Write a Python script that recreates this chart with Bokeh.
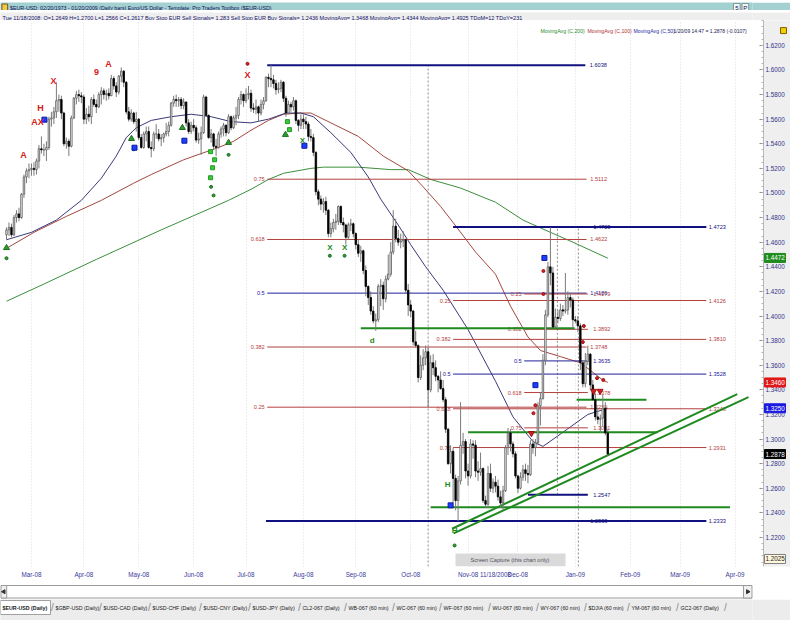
import numpy as np
import pandas as pd
from bokeh.plotting import figure
from bokeh.models import (Range1d, FixedTicker, Label, ColumnDataSource, BoxAnnotation)
from bokeh.layouts import column, row
from bokeh.embed import file_html
from bokeh.resources import INLINE
from bokeh.core.properties import value

FONT = "Liberation Sans"

# ---------------- data ----------------
start_date = "2008-02-18"
end_date = "2009-01-20"
axis_end_date = "2009-04-30"
cursor_bar = 196          # 11/18/2008, the bar shown in the header line

opens = [
 1.4660,1.4700,1.4720,1.4660,1.4800,1.4830,1.4800,1.4990,1.5130,1.5180,
 1.5190,1.5200,1.5190,1.5260,1.5360,1.5350,1.5350,1.5370,1.5600,1.5610,1.5660,1.5750,1.5760,1.5650,1.5400,1.5420,1.5380,1.5610,1.5770,1.5800,1.5790,
 1.5780,1.5600,1.5640,1.5620,1.5760,1.5720,1.5700,1.5800,1.5830,1.5800,1.5810,1.5790,1.5930,1.5870,1.5820,1.5950,1.5990,1.5900,1.5660,1.5600,1.5650,1.5580,
 1.5600,1.5450,1.5370,1.5480,1.5500,1.5370,1.5360,1.5480,1.5480,1.5440,1.5450,1.5480,1.5500,1.5550,1.5730,1.5760,1.5750,1.5760,1.5710,1.5740,1.5570,1.5500,
 1.5550,1.5530,1.5430,1.5440,1.5490,1.5780,1.5630,1.5450,1.5480,1.5380,1.5370,1.5480,1.5520,1.5550,1.5490,1.5620,1.5530,1.5610,1.5630,1.5760,1.5800,
 1.5750,1.5800,1.5810,1.5690,1.5680,1.5700,1.5650,1.5720,1.5750,1.5940,1.5930,1.5920,1.5890,1.5840,1.5850,1.5900,1.5770,1.5650,1.5720,1.5700,1.5750,1.5590,1.5550,
 1.5600,1.5580,1.5560,1.5460,1.5450,1.5330,1.5010,1.4950,1.4910,1.4930,1.4860,1.4670,1.4710,1.4760,1.4770,1.4890,1.4760,1.4740,1.4640,1.4740,1.4750,
 1.4670,1.4580,1.4510,1.4530,1.4370,1.4240,1.4150,1.4040,1.3960,1.3970,1.4240,1.4250,1.4140,1.4300,1.4340,1.4520,1.4730,1.4630,1.4600,1.4610,1.4620,1.4210,
 1.4090,1.4040,1.3790,1.3760,1.3500,1.3600,1.3660,1.3710,1.3400,1.3620,1.3580,1.3510,1.3480,1.3410,1.3320,1.3080,1.2800,1.2900,1.2680,1.2500,1.2660,1.2950,1.2980,
 1.2740,1.2700,1.2960,1.2950,1.2740,1.2730,1.2760,1.2500,1.2470,1.2720,1.2600,1.2649,1.2617,1.2530,1.2480,1.2580,1.2930,1.3050,1.2960,1.2880,
 1.2700,1.2600,1.2690,1.2750,1.2720,1.2710,1.2960,1.2930,1.2970,1.3270,1.3330,1.3640,1.4010,1.4400,1.4350,1.3910,1.3990,1.3980,1.4050,1.4040,1.4050,1.4150,1.4130,
 1.3970,1.3960,1.3920,1.3620,1.3450,1.3630,1.3690,1.3440,1.3320,1.3180,1.3160,1.3170,1.3250,1.3050]

highs = [
 1.4720,1.4760,1.4750,1.4820,1.4860,1.4880,1.5000,1.5150,1.5200,1.5240,
 1.5240,1.5250,1.5280,1.5390,1.5460,1.5400,1.5420,1.5620,1.5660,1.5700,1.5900,1.5800,1.5790,1.5660,1.5450,1.5440,1.5630,1.5780,1.5830,1.5840,1.5820,
 1.5800,1.5690,1.5710,1.5780,1.5800,1.5760,1.5820,1.5860,1.5850,1.5840,1.5850,1.5960,1.5950,1.5900,1.5960,1.6020,1.6000,1.5910,1.5700,1.5680,1.5660,1.5660,
 1.5610,1.5480,1.5500,1.5540,1.5540,1.5420,1.5500,1.5560,1.5520,1.5480,1.5490,1.5570,1.5580,1.5740,1.5790,1.5800,1.5780,1.5780,1.5770,1.5740,1.5600,1.5580,
 1.5600,1.5550,1.5490,1.5540,1.5800,1.5790,1.5640,1.5520,1.5490,1.5440,1.5500,1.5540,1.5570,1.5560,1.5640,1.5630,1.5630,1.5700,1.5780,1.5830,1.5810,
 1.5850,1.5870,1.5840,1.5730,1.5760,1.5710,1.5760,1.5780,1.5950,1.5970,1.6038,1.5960,1.5920,1.5900,1.5920,1.5910,1.5790,1.5750,1.5740,1.5780,1.5760,1.5600,1.5640,
 1.5640,1.5620,1.5580,1.5520,1.5480,1.5340,1.5030,1.4980,1.4960,1.4970,1.4870,1.4760,1.4790,1.4830,1.4900,1.4900,1.4800,1.4750,1.4760,1.4790,1.4760,
 1.4680,1.4620,1.4570,1.4540,1.4410,1.4250,1.4200,1.4080,1.4020,1.4260,1.4300,1.4280,1.4330,1.4500,1.4600,1.4860,1.4790,1.4700,1.4670,1.4690,1.4630,1.4260,
 1.4130,1.4050,1.3880,1.3770,1.3680,1.3730,1.3760,1.3750,1.3680,1.3690,1.3640,1.3520,1.3550,1.3480,1.3340,1.3090,1.2950,1.2930,1.2710,1.2700,1.3300,1.3050,1.3000,
 1.2800,1.3000,1.2990,1.2990,1.2820,1.2890,1.2770,1.2540,1.2780,1.2800,1.2680,1.2700,1.2670,1.2580,1.2620,1.2950,1.3090,1.3080,1.2980,1.2900,
 1.2710,1.2730,1.2790,1.2800,1.2790,1.2990,1.3000,1.3000,1.3300,1.3380,1.3690,1.4050,1.4440,1.4720,1.4400,1.4060,1.4050,1.4100,1.4090,1.4350,1.4200,1.4190,1.4150,
 1.4000,1.4000,1.3940,1.3640,1.3700,1.3760,1.3700,1.3480,1.3370,1.3250,1.3200,1.3360,1.3300,1.3080]

lows = [
 1.4620,1.4650,1.4640,1.4650,1.4760,1.4770,1.4790,1.4960,1.5080,1.5120,
 1.5140,1.5140,1.5150,1.5200,1.5320,1.5300,1.5260,1.5350,1.5540,1.5560,1.5610,1.5660,1.5600,1.5380,1.5360,1.5300,1.5370,1.5600,1.5720,1.5740,1.5730,
 1.5560,1.5560,1.5580,1.5560,1.5700,1.5650,1.5690,1.5720,1.5760,1.5750,1.5760,1.5790,1.5840,1.5780,1.5800,1.5900,1.5860,1.5640,1.5580,1.5580,1.5560,1.5500,
 1.5430,1.5360,1.5360,1.5420,1.5360,1.5290,1.5340,1.5440,1.5420,1.5380,1.5410,1.5460,1.5460,1.5540,1.5700,1.5700,1.5700,1.5680,1.5680,1.5540,1.5480,1.5480,
 1.5500,1.5410,1.5400,1.5310,1.5480,1.5620,1.5440,1.5410,1.5350,1.5300,1.5360,1.5450,1.5460,1.5460,1.5480,1.5510,1.5520,1.5550,1.5600,1.5720,1.5700,
 1.5730,1.5760,1.5660,1.5650,1.5640,1.5580,1.5630,1.5680,1.5740,1.5860,1.5860,1.5850,1.5800,1.5810,1.5820,1.5740,1.5620,1.5640,1.5660,1.5670,1.5560,1.5500,1.5520,
 1.5520,1.5520,1.5420,1.5420,1.5300,1.4980,1.4900,1.4860,1.4840,1.4820,1.4640,1.4640,1.4680,1.4700,1.4740,1.4740,1.4680,1.4580,1.4620,1.4690,1.4640,
 1.4540,1.4480,1.4440,1.4340,1.4160,1.4090,1.4010,1.3940,1.3880,1.3950,1.4080,1.4050,1.4110,1.4290,1.4320,1.4500,1.4600,1.4570,1.4550,1.4560,1.4180,1.4000,
 1.3990,1.3760,1.3740,1.3460,1.3480,1.3560,1.3600,1.3260,1.3380,1.3520,1.3470,1.3380,1.3400,1.3300,1.3050,1.2790,1.2720,1.2480,1.2420,1.2333,1.2630,1.2880,1.2680,
 1.2620,1.2680,1.2840,1.2690,1.2660,1.2700,1.2480,1.2440,1.2440,1.2570,1.2560,1.2566,1.2500,1.2440,1.2420,1.2570,1.2870,1.2900,1.2850,1.2680,
 1.2560,1.2590,1.2660,1.2660,1.2640,1.2700,1.2880,1.2860,1.2950,1.3110,1.3320,1.3600,1.3990,1.4250,1.3900,1.3900,1.3940,1.3960,1.4000,1.4020,1.4010,1.4070,1.3900,
 1.3940,1.3870,1.3560,1.3420,1.3420,1.3600,1.3400,1.3310,1.3150,1.3120,1.3050,1.3100,1.3030,1.2860]

closes = [
 1.4700,1.4720,1.4660,1.4800,1.4830,1.4800,1.4990,1.5130,1.5180,1.5190,
 1.5200,1.5190,1.5260,1.5360,1.5350,1.5350,1.5370,1.5600,1.5610,1.5660,1.5750,1.5760,1.5650,1.5400,1.5420,1.5380,1.5610,1.5770,1.5800,1.5790,1.5780,
 1.5600,1.5640,1.5620,1.5760,1.5720,1.5700,1.5800,1.5830,1.5800,1.5810,1.5790,1.5930,1.5870,1.5820,1.5950,1.5990,1.5900,1.5660,1.5600,1.5650,1.5580,1.5600,
 1.5450,1.5370,1.5480,1.5500,1.5370,1.5360,1.5480,1.5480,1.5440,1.5450,1.5480,1.5500,1.5550,1.5730,1.5760,1.5750,1.5760,1.5710,1.5740,1.5570,1.5500,1.5550,
 1.5530,1.5430,1.5440,1.5490,1.5780,1.5630,1.5450,1.5480,1.5380,1.5370,1.5480,1.5520,1.5550,1.5490,1.5620,1.5530,1.5610,1.5630,1.5760,1.5800,1.5750,
 1.5800,1.5810,1.5690,1.5680,1.5700,1.5650,1.5720,1.5750,1.5940,1.5930,1.5920,1.5890,1.5840,1.5850,1.5900,1.5770,1.5650,1.5720,1.5700,1.5750,1.5590,1.5550,1.5600,
 1.5580,1.5560,1.5460,1.5450,1.5330,1.5010,1.4950,1.4910,1.4930,1.4860,1.4670,1.4710,1.4760,1.4770,1.4890,1.4760,1.4740,1.4640,1.4740,1.4750,1.4670,
 1.4580,1.4510,1.4530,1.4370,1.4240,1.4150,1.4040,1.3960,1.3970,1.4240,1.4250,1.4140,1.4300,1.4340,1.4520,1.4730,1.4630,1.4600,1.4610,1.4620,1.4210,1.4090,
 1.4040,1.3790,1.3760,1.3500,1.3600,1.3660,1.3710,1.3400,1.3620,1.3580,1.3510,1.3480,1.3410,1.3320,1.3080,1.2800,1.2900,1.2680,1.2500,1.2660,1.2950,1.2980,1.2740,
 1.2700,1.2960,1.2950,1.2740,1.2730,1.2760,1.2500,1.2470,1.2720,1.2600,1.2650,1.2617,1.2530,1.2480,1.2580,1.2930,1.3050,1.2960,1.2880,1.2700,
 1.2600,1.2690,1.2750,1.2720,1.2710,1.2960,1.2930,1.2970,1.3270,1.3330,1.3640,1.4010,1.4400,1.4350,1.3910,1.3990,1.3980,1.4050,1.4040,1.4050,1.4150,1.4130,1.3970,
 1.3960,1.3920,1.3620,1.3450,1.3630,1.3690,1.3440,1.3320,1.3180,1.3160,1.3170,1.3250,1.3050,1.2878]

# moving averages (bar index, value)
ma50_x = [0, 10, 20, 30, 38, 44, 48, 52, 58, 66, 74, 82, 90, 98, 105, 112, 118, 123, 130, 138, 145, 150, 157, 162, 168, 175, 185, 196, 203, 211, 215, 222, 233, 241]
ma50_y = [1.462, 1.468, 1.478, 1.494, 1.512, 1.530, 1.545, 1.553, 1.559, 1.562, 1.564, 1.562, 1.558, 1.557, 1.560, 1.565, 1.565, 1.562, 1.549, 1.533, 1.513, 1.495, 1.474, 1.458, 1.440, 1.421, 1.389, 1.347, 1.318, 1.298, 1.294, 1.304, 1.320, 1.325]
ma100_x = [0, 11, 24, 38, 51, 58, 71, 85, 91, 98, 105, 111, 118, 122, 130, 141, 151, 161, 167, 174, 179, 188, 196, 202, 209, 214, 222, 230, 239, 241]
ma100_y = [1.455, 1.468, 1.481, 1.494, 1.508, 1.515, 1.527, 1.537, 1.542, 1.551, 1.559, 1.564, 1.565, 1.565, 1.557, 1.546, 1.530, 1.518, 1.505, 1.489, 1.476, 1.452, 1.434, 1.408, 1.383, 1.372, 1.367, 1.362, 1.348, 1.346]
ma200_x = [0, 15, 36, 62, 89, 98, 105, 111, 122, 127, 141, 154, 161, 170, 182, 196, 207, 218, 227, 241]
ma200_y = [1.412, 1.426, 1.446, 1.470, 1.494, 1.503, 1.511, 1.516, 1.520, 1.521, 1.521, 1.519, 1.519, 1.511, 1.504, 1.4925, 1.478, 1.468, 1.460, 1.447]

# Fibonacci sets: (ratio labels, level values)
fib1_ratios = ["0.75", "0.618", "0.5", "0.382", "0.25"]
fib1_levels = [1.5112, 1.4622, 1.4186, 1.3748, 1.3259]
fib1_span = (104.5, 232.5)
fib2_ratios = ["0.25", "0.382", "0.5", "0.618", "0.75"]
fib2_levels = [1.4126, 1.3810, 1.3528, 1.3246, 1.2931]
fib2_span = (179.0, 280.5)
fib3_ratios = ["0.25", "0.382", "0.5", "0.618", "0.75"]
fib3_levels = [1.4179, 1.3892, 1.3635, 1.3378, 1.3091]
fib3_span = (207.5, 233.0)

# swing high/low lines
swing_levels = [1.6038, 1.4723, 1.2333, 1.2547]
swing_x0 = [104.5, 179.0, 104.0, 209.0]
swing_x1 = [232.0, 280.5, 280.5, 233.0]

# green support lines
sup_levels = [1.3900, 1.3320, 1.3055, 1.2445]
sup_x0 = [142.0, 228.5, 185.0, 170.0]
sup_x1 = [227.7, 256.5, 261.0, 290.0]

# rising trend channel
tl_x0 = [178.6, 179.2]
tl_y0 = [1.2271, 1.2233]
tl_x1 = [292.9, 297.4]
tl_y1 = [1.3365, 1.3340]

# dashed verticals
vd_x = [169.0, 220.8, 229.2]
vd_top = [1.6038, 1.4723, 1.4723]
vd_bot = [1.1964, 1.2547, 1.1964]

# signals
red_sig_x = [6.8, 12.4, 13.6, 18.8, 36.1, 40.9, 96.6]
red_sig_y = [1.531, 1.558, 1.569, 1.591, 1.598, 1.605, 1.596]
red_sig_t = ["A", "AX", "H", "X", "9", "A", "X"]
grn_sig_x = [118.6, 129.6, 135.5, 146.6, 176.8, 179.6]
grn_sig_y = [1.543, 1.456, 1.456, 1.380, 1.263, 1.226]
grn_sig_t = ["X", "X", "X", "d", "H", "H"]
blue_sq_x = [15.2, 51.3, 71.3, 119.4, 178.0, 212.0, 215.6]
blue_sq_y = [1.5596, 1.5368, 1.5425, 1.5384, 1.2461, 1.3438, 1.4472]
grn_tri_x = [0.0, 50.1, 70.5, 89.0, 111.8]
grn_tri_y = [1.4554, 1.5441, 1.5530, 1.5409, 1.5474]
grn_dot_x = [0.0, 51.0, 89.0, 129.6, 135.5, 179.6, 82.0, 83.0]
grn_dot_y = [1.4470, 1.5355, 1.5310, 1.4490, 1.4490, 1.2135, 1.5050, 1.4980]
grn_sq_x = [81.8, 83.4, 82.6, 81.8, 112.6, 113.4]
grn_sq_y = [1.5336, 1.5270, 1.5205, 1.5124, 1.5580, 1.5515]
red_dot_x = [96.6, 211.2, 212.0, 215.2, 215.2, 231.4, 231.0, 236.7, 239.2]
red_dot_y = [1.6050, 1.3210, 1.3275, 1.4366, 1.4179, 1.3919, 1.3788, 1.3495, 1.3480]
red_tri_x = [210.4, 235.3, 237.9]
red_tri_y = [1.3047, 1.3390, 1.3390]

# right-axis value boxes: MA200, MA100, MA50, last close, cursor price
box_vals = [1.4472, 1.3460, 1.3250, 1.2878, 1.2025]

y_ticks = [1.22, 1.24, 1.26, 1.28, 1.30, 1.32, 1.34, 1.36, 1.38, 1.40, 1.42,
           1.44, 1.46, 1.48, 1.50, 1.52, 1.54, 1.56, 1.58, 1.60, 1.62]

tab_names = ["$EUR-USD (Daily)", "$GBP-USD (Daily)", "$USD-CAD (Daily)", "$USD-CHF (Daily)",
             "$USD-CNY (Daily)", "$USD-JPY (Daily)", "CL2-067 (Daily)", "WB-067 (60 min)",
             "WC-067 (60 min)", "WF-067 (60 min)", "WU-067 (60 min)", "WY-067 (60 min)",
             "$DJIA (60 min)", "YM-067 (60 min)", "GC2-067 (Daily)"]

# ---------------- derived ----------------
dates = pd.bdate_range(start_date, end_date)
n = min(len(dates), len(opens), len(highs), len(lows), len(closes))
o = np.array(opens[:n]); h = np.array(highs[:n]); l = np.array(lows[:n]); c = np.array(closes[:n])
idx = np.arange(n)
up = c >= o

all_days = pd.bdate_range(start_date, axis_end_date)
month_ticks = [int(i) for i in range(1, len(all_days)) if all_days[i].month != all_days[i - 1].month]
xlabels = {i: all_days[i].strftime("%b-%y") for i in month_ticks}
xlabels[cursor_bar] = dates[cursor_bar].strftime("%m/%d/%Y")

YMIN, YMAX = 1.1964, 1.6402
NAVY = "#20209A"
MAROON = "#B3403E"
DKNAVY = "#10107F"
GREEN = "#1F8A1F"
W = 790
RB = 38          # price axis column
FW = W - RB      # chart frame width
MAIN_H = 562
BOT = 16
AXPAD = 11       # tick area of the price column
AXW = RB - AXPAD


def strip(height, fill, right=RB):
    f = figure(width=W, height=height, x_range=Range1d(0, W - right), y_range=Range1d(height, 0),
               toolbar_location=None, output_backend="svg", x_axis_location=None,
               y_axis_location=None, min_border_left=0, min_border_right=right,
               min_border_top=0, min_border_bottom=0, outline_line_color=None,
               background_fill_color=fill, border_fill_color=fill)
    f.grid.visible = False
    return f

# ---------------- header ----------------
t1 = strip(10, "#A3D0D0", right=0)
t1.quad(left=[1.5], right=[7.5], top=[1.5], bottom=[8], fill_color="#F2C94C", line_color="#7A5A10")
title_text = ("$EUR-USD:  02/20/1973 - 01/20/2009  (Daily bars)   Euro/US Dollar  -  "
              "Template: Pro Traders Toolbox ($EUR-USD)")
t1.text(x=[10], y=[5.3], text=[title_text], text_baseline="middle", text_font=value(FONT),
        text_font_size="5.3px", text_color="#0E0E5A")
t1.quad(left=[770, 779], right=[777, 786], top=[1, 1], bottom=[9, 9],
        fill_color="#F4F4F4", line_color="#7A9A9A")
t1.text(x=[773.5, 782.5], y=[5.2, 5.2], text=["5", "P"], text_align="center",
        text_baseline="middle", text_font=value(FONT), text_font_size="6px", text_color="#10105A")

t2 = strip(10, "#EEEEEE")
k = cursor_bar
info_text = ("Tue  11/18/2008:  O=%.4f  H=%.4f  L=%.4f  C=%.4f  Buy Stop EUR Sell Signals= 1.283  "
             "Sell Stop EUR Buy Signals= 1.2436  MovingAvg= 1.3468  MovingAvg= 1.4344  "
             "MovingAvg= 1.4925  TDoM=12  TDoY=231") % (o[k], h[k], l[k], c[k])
t2.text(x=[2], y=[5.2], text=[info_text], text_baseline="middle", text_font=value(FONT),
        text_font_size="5.5px", text_color="#10106A")

# ---------------- main chart ----------------
p = figure(width=FW, height=MAIN_H, x_range=Range1d(-2.405, 299.0), y_range=Range1d(YMIN, YMAX),
           y_axis_location=None, toolbar_location=None, output_backend="svg",
           min_border_left=0, min_border_right=0, min_border_top=0, min_border_bottom=BOT,
           background_fill_color="white", border_fill_color="white", outline_line_color=None)

p.xaxis.ticker = FixedTicker(ticks=sorted(xlabels.keys()))
p.xaxis.major_label_overrides = xlabels
p.xaxis.major_label_text_font = FONT
p.xaxis.major_label_text_font_size = "6.3px"
p.xaxis.major_label_text_color = "#3A3A9A"
p.xaxis.axis_line_color = None
p.xaxis.major_tick_line_color = None
p.xaxis.minor_tick_line_color = None
p.xaxis.major_tick_out = 0
p.xaxis.major_label_standoff = 4

p.ygrid.visible = False
p.xgrid.ticker = FixedTicker(ticks=month_ticks)
p.xgrid.grid_line_color = "#DCDCDC"
p.xgrid.grid_line_dash = "1 2"

# price axis column: library axis (ticks) on the shared price scale, labels and value boxes inside
ax = figure(width=RB, height=MAIN_H, x_range=Range1d(0, AXW), y_range=p.y_range,
            x_axis_location=None, y_axis_location="left", toolbar_location=None,
            output_backend="svg", min_border_left=AXPAD, min_border_right=0,
            min_border_top=0, min_border_bottom=BOT, outline_line_color=None,
            background_fill_color="#EFEFEF", border_fill_color="white")
ax.grid.visible = False
ax.yaxis.ticker = FixedTicker(ticks=y_ticks,
                              minor_ticks=[round(1.20 + 0.005 * i, 3) for i in range(90)])
ax.yaxis.major_label_overrides = {t: "" for t in y_ticks}
ax.yaxis.axis_line_color = "#B8B8B8"
ax.yaxis.major_tick_line_color = "#8A8A8A"
ax.yaxis.minor_tick_line_color = "#B5B5B5"
ax.yaxis.major_tick_in = 0
ax.yaxis.major_tick_out = 4
ax.yaxis.minor_tick_in = 0
ax.yaxis.minor_tick_out = 2
ax.yaxis.major_label_standoff = 0
ax.text(x=[2] * len(y_ticks), y=y_ticks, text=["%.4f" % t for t in y_ticks],
        text_baseline="middle", text_font=value(FONT), text_font_size="6.3px",
        text_color="#34348E")
box_cols = ["#1E8C1E", "#E01818", "#1A1AE0", "#000000", "#FFF8DC"]
box_txt = ["#FFFFFF", "#FFFFFF", "#FFFFFF", "#FFFFFF", "#202020"]
box_line = [None, None, None, None, "#808080"]
ax.rect(x=[11.5] * len(box_vals), y=box_vals, width=21, height=9, width_units="screen",
        height_units="screen", fill_color=box_cols, line_color=["#808080" if b else c for b, c in zip(box_line, box_cols)])
ax.text(x=[2] * len(box_vals), y=box_vals, text=["%.4f" % v for v in box_vals],
        text_baseline="middle", text_font=value(FONT), text_font_size="6.3px", text_color=box_txt)
leg_y = YMAX - 0.0082
ax.scatter(x=[20], y=[leg_y], marker="square", size=6, fill_color="#F0D000", line_color="#806000")

# moving averages
p.line(ma200_x, ma200_y, line_color="#3C8E3C", line_width=1)
p.line(ma100_x, ma100_y, line_color="#A5463F", line_width=1)
p.line(ma50_x, ma50_y, line_color="#3A3A78", line_width=1)

# dashed verticals
p.segment(x0=vd_x, y0=vd_bot, x1=vd_x, y1=vd_top, line_color="#8C8C8C", line_dash="2 2", line_width=1)

# fibonacci sets
def draw_fib(ratios, levels, span, val_x, lab_size="5.6px"):
    cols = [NAVY if r == "0.5" else MAROON for r in ratios]
    x0, x1 = span
    p.segment(x0=[x0] * len(levels), y0=levels, x1=[x1] * len(levels), y1=levels,
              line_color=cols, line_width=1)
    p.text(x=[x0 - 1.0] * len(levels), y=levels, text=ratios, text_align="right",
           text_baseline="middle", text_font=value(FONT), text_font_size=lab_size, text_color=cols)
    p.text(x=[val_x] * len(levels), y=levels, text=["%.4f" % v for v in levels], text_align="left",
           text_baseline="middle", text_font=value(FONT), text_font_size=lab_size, text_color=cols)

draw_fib(fib1_ratios, fib1_levels, fib1_span, 234.0)
draw_fib(fib2_ratios, fib2_levels, fib2_span, 281.5)
draw_fib(fib3_ratios, fib3_levels, fib3_span, 235.2)

p.segment(x0=swing_x0, y0=swing_levels, x1=swing_x1, y1=swing_levels, line_color=DKNAVY, line_width=2)
sw_lab_x = [233.8, 281.5, 281.5, 235.2, 235.2, 234.0]
sw_lab_y = [swing_levels[0], swing_levels[1], swing_levels[2], swing_levels[3], swing_levels[1], swing_levels[2]]
p.text(x=sw_lab_x, y=sw_lab_y, text=["%.4f" % v for v in sw_lab_y], text_align="left",
       text_baseline="middle", text_font=value(FONT), text_font_size="5.6px", text_color=DKNAVY)

# green support lines and trend channel
p.segment(x0=sup_x0, y0=sup_levels, x1=sup_x1, y1=sup_levels, line_color=GREEN, line_width=2)
p.segment(x0=tl_x0, y0=tl_y0, x1=tl_x1, y1=tl_y1, line_color=GREEN, line_width=2)

# candles
src = ColumnDataSource(dict(x=idx, hi=h, lo=l, top=np.maximum(o, c), bot=np.minimum(o, c),
                            fc=["#FFFFFF" if u else "#000000" for u in up],
                            lc=["#555555" if u else "#000000" for u in up]))
p.segment(x0="x", y0="lo", x1="x", y1="hi", source=src, line_color="#7A7A7A", line_width=1)
p.vbar(x="x", width=0.6, top="top", bottom="bot", source=src, fill_color="fc", line_color="lc",
       line_width=0.8)

# signals
p.scatter(grn_dot_x, grn_dot_y, marker="circle", size=3, fill_color="#2E9B2E", line_color="#1E6E1E")
p.scatter(grn_sq_x, grn_sq_y, marker="square", size=4, fill_color="#3ACB3A", line_color="#229922")
p.scatter(grn_tri_x, grn_tri_y, marker="triangle", size=6, fill_color="#2E9B2E", line_color="#1E6E1E")
p.scatter(blue_sq_x, blue_sq_y, marker="square", size=5, fill_color="#1D3DFF", line_color="#0A1AA0")
p.scatter(red_dot_x, red_dot_y, marker="circle", size=3, fill_color="#D02020", line_color="#A01010")
p.scatter(red_tri_x, red_tri_y, marker="inverted_triangle", size=6, fill_color="#D02020", line_color="#A01010")
p.text(x=red_sig_x, y=red_sig_y, text=red_sig_t, text_align="center", text_baseline="middle",
       text_font=value(FONT), text_font_size="9px", text_font_style="bold", text_color="#D42020")
p.text(x=grn_sig_x, y=grn_sig_y, text=grn_sig_t, text_align="center", text_baseline="middle",
       text_font=value(FONT), text_font_size="8px", text_font_style="bold", text_color="#1E8A1E")

# legend line at top right
for xs, txt, col, fs in [(540, "MovingAvg (C,200)", "#2E8B2E", "5.2px"),
                         (587, "MovingAvg (C,100)", "#B03030", "5.2px"),
                         (633, "MovingAvg (C,50)", "#2A2AA0", "5.2px"),
                         (673, "1/20/09 14:47 = 1.2878 (-0.0107)", "#202050", "5.0px")]:
    p.add_layout(Label(x=xs, y=leg_y, x_units="screen", y_units="data", text=txt,
                       text_font=FONT, text_font_size=fs, text_color=col, text_baseline="middle"))

# screen capture note
p.add_layout(BoxAnnotation(left=455, right=565, bottom=0, top=13, left_units="screen",
                           right_units="screen", bottom_units="screen", top_units="screen",
                           fill_color="#DADADA", fill_alpha=1.0, line_color=None))
p.add_layout(Label(x=470, y=6.5, x_units="screen", y_units="screen", anchor="center_left",
                   text="Screen Capture (this chart only)", text_font=FONT,
                   text_font_size="5.6px", text_color="#505060"))

# ---------------- footer ----------------
sc = strip(17, "#FFFFFF", right=0)
sc.quad(left=[0.5], right=[W - 0.5], top=[3], bottom=[15.5], fill_color="#FFFFFF", line_color="#9A9A9A")
sc.quad(left=[0.5, W - 9.5], right=[6.5, W - 0.5], top=[3, 3], bottom=[15.5, 15.5],
        fill_color="#F0F0F0", line_color="#9A9A9A")
sc.scatter(x=[3.5, W - 5], y=[9.2, 9.2], marker="triangle", angle=[1.5708, -1.5708], size=4,
           color="#303030")

tb = strip(21, "#ECECEC")
tab_x = [2, 55, 103, 152, 203, 252, 302, 348, 396, 443, 492, 540, 588, 631, 680]
tb.quad(left=[0], right=[50], top=[1], bottom=[15], fill_color="#FFFFFF", line_color="#A0A0A0")
tb.text(x=tab_x, y=[8] * len(tab_names), text=tab_names, text_baseline="middle",
        text_font=value(FONT), text_font_size="5.3px",
        text_font_style=["bold"] + ["normal"] * (len(tab_names) - 1), text_color="#202020")
tb.text(x=[t - 3 for t in tab_x[1:]] + [725], y=[8] * len(tab_names), text=["/"] * len(tab_names),
        text_baseline="middle", text_align="center", text_font=value(FONT), text_font_size="10px",
        text_color="#8A8A8A")

layout = column(t1, t2, row(p, ax, spacing=0), sc, tb, spacing=0)
open("out.html", "w").write(file_html(layout, INLINE))
